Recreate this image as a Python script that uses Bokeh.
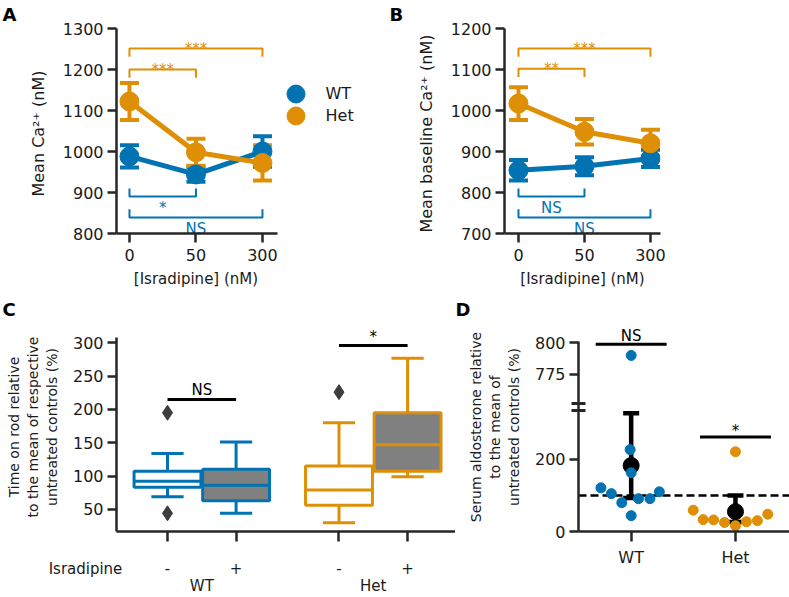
from bokeh.plotting import figure
from bokeh.layouts import row, column
from bokeh.models import (Range1d, LinearAxis, FixedTicker, Whisker, TeeHead,
                          ColumnDataSource, Legend, LegendItem)
from bokeh.core.properties import value
from bokeh.embed import file_html
from bokeh.resources import INLINE

FONT = "DejaVu Sans"
BLUE = "#0173B2"
ORANGE = "#DE8F05"
INK = "#262626"
TXT = "#1a1a1a"
BOX_GRAY = "#808080"
OUTLIER = "#3d3d3d"

# ---------------- data ----------------
conc_labels = ["0", "50", "300"]
conc_title = "[Isradipine] (nM)"
genotypes = ["WT", "Het"]

# Panel A: mean Ca2+ (nM), mean and SEM
a_wt_mean = [988, 944, 1000]
a_wt_sem = [27, 18, 37]
a_het_mean = [1122, 998, 972]
a_het_sem = [45, 33, 43]
a_het_sig = [(0, 1, 1200, "***"), (0, 2, 1251, "***")]
a_wt_sig = [(0, 1, 890, "*"), (0, 2, 839, "NS")]

# Panel B: mean baseline Ca2+ (nM)
b_wt_mean = [854, 864, 883]
b_wt_sem = [25, 22, 21]
b_het_mean = [1017, 948, 920]
b_het_sem = [40, 31, 33]
b_het_sig = [(0, 1, 1102, "**"), (0, 2, 1151, "***")]
b_wt_sig = [(0, 1, 790, "NS"), (0, 2, 739, "NS")]

# Panel C: box plots, order WT-, WT+, Het-, Het+
c_treat_title = "Isradipine"
c_treat_labels = ["-", "+"]
c_q1 = [83, 63, 56, 107]
c_median = [92, 86, 79, 147]
c_q3 = [107, 110, 115, 195]
c_whisker_lo = [69, 44, 30, 99]
c_whisker_hi = [134, 151, 180, 277]
c_outlier_box = [0, 0, 2]
c_outlier_val = [195, 44, 226]
c_sig = [(0, 1, 215, "NS"), (2, 3, 296, "*")]

# Panel D: serum aldosterone (% of untreated controls)
d_wt_vals = [121, 105, 80, 44, 91, 91, 110, 227, 163, 790]
d_wt_swarm = [-0.29, -0.19, -0.09, 0.0, 0.07, 0.18, 0.27, -0.01, 0.0, 0.0]
d_het_vals = [59, 33, 32, 25, 16, 27, 30, 48, 221]
d_het_swarm = [-0.405, -0.31, -0.21, -0.105, 0.0, 0.105, 0.21, 0.31, 0.0]
d_mean = [183, 55]
d_ci_lo = [93, 26]
d_ci_hi = [328, 100]
d_sig = [(0, 799, "NS"), (1, 262, "*")]
d_break = 700
d_reference = 100


# ---------------- helpers ----------------
def base_fig(width, height, x_range, y_range, bl, br, bt, bb):
    p = figure(width=width, height=height, x_range=x_range, y_range=y_range,
               output_backend="svg", toolbar_location=None,
               min_border_left=bl, min_border_right=br,
               min_border_top=bt, min_border_bottom=bb)
    p.outline_line_color = None
    p.xgrid.visible = False
    p.ygrid.visible = False
    return p


def style_axis(ax, label_size="16px", title_size="15px"):
    ax.axis_line_color = INK
    ax.axis_line_width = 2.5
    ax.major_tick_line_color = INK
    ax.major_tick_line_width = 2.5
    ax.major_tick_out = 9
    ax.major_tick_in = 0
    ax.minor_tick_line_color = None
    ax.major_label_text_font = FONT
    ax.major_label_text_font_size = label_size
    ax.major_label_text_color = TXT
    ax.axis_label_text_font = FONT
    ax.axis_label_text_font_size = title_size
    ax.axis_label_text_font_style = "normal"
    ax.axis_label_text_color = TXT


def panel_letter(p, letter, offset, standoff):
    p.title.text = letter
    p.title.align = "left"
    p.title.offset = offset
    p.title.standoff = standoff
    p.title.vertical_align = "top"
    p.title.text_font = FONT
    p.title.text_font_size = "18px"
    p.title.text_font_style = "bold"
    p.title.text_color = "black"


def series(p, means, sems, color):
    xs = list(range(len(means)))
    src = ColumnDataSource(dict(x=xs, m=means,
                                lo=[m - s for m, s in zip(means, sems)],
                                hi=[m + s for m, s in zip(means, sems)]))
    p.add_layout(Whisker(source=src, base="x", lower="lo", upper="hi",
                         line_color=color, line_width=4,
                         upper_head=TeeHead(size=19, line_color=color, line_width=4),
                         lower_head=TeeHead(size=19, line_color=color, line_width=4)))
    p.line("x", "m", source=src, line_color=color, line_width=5)
    return p.scatter("x", "m", source=src, size=19, fill_color=color, line_color=color)


BR_TICK = 20


def brackets(p, specs, color, above):
    for i0, i1, lvl, txt in specs:
        d = -BR_TICK if above else BR_TICK
        p.line([i0, i0, i1, i1], [lvl + d, lvl, lvl, lvl + d], line_color=color, line_width=2)
        p.text(x=[(i0 + i1) / 2], y=[lvl], text=[txt], text_color=color,
               text_font=value(FONT), text_font_size="15px", text_align="center",
               text_baseline="alphabetic" if above else "top",
               y_offset=0 if above else 2)


def conc_axes(p, ylabel, yticks, xlabel=True):
    p.xaxis.ticker = FixedTicker(ticks=list(range(len(conc_labels))))
    p.xaxis.major_label_overrides = {i: s for i, s in enumerate(conc_labels)}
    p.yaxis.ticker = FixedTicker(ticks=yticks)
    if xlabel:
        p.xaxis.axis_label = conc_title
    p.yaxis.axis_label = ylabel
    for ax in p.axis:
        style_axis(ax)
    p.yaxis.axis_label_text_font_size = "16px"
    p.xaxis.major_label_standoff = 6
    p.xaxis.axis_label_standoff = 6
    p.yaxis.major_label_standoff = 4
    p.yaxis.axis_label_standoff = 12


# ---------------- Panel A ----------------
A_X = Range1d(-0.195, 3.775)
pA = base_fig(388, 295, A_X, Range1d(800, 1300), 116, 8, 28, 62)
conc_axes(pA, "Mean Ca²⁺  (nM)", list(range(800, 1301, 100)), xlabel=False)
pA.xaxis.bounds = (A_X.start, 2.22)
# axis title centred under the (shortened) axis line, as its own label row
mid = (len(conc_labels) - 1) / 2
title_axis = LinearAxis(ticker=FixedTicker(ticks=[mid]), major_label_overrides={mid: conc_title})
pA.add_layout(title_axis, "below")
style_axis(title_axis, label_size="15px")
title_axis.axis_line_color = None
title_axis.major_tick_line_color = None
title_axis.major_tick_out = 0
title_axis.major_label_standoff = 6
rA_wt = series(pA, a_wt_mean, a_wt_sem, BLUE)
rA_het = series(pA, a_het_mean, a_het_sem, ORANGE)
brackets(pA, a_het_sig, ORANGE, True)
brackets(pA, a_wt_sig, BLUE, False)
for lbl, rend, bottom in ((genotypes[0], rA_wt, 117.5), (genotypes[1], rA_het, 95.5)):
    pA.add_layout(Legend(items=[LegendItem(label=lbl, renderers=[rend])],
                         location=(156.5, bottom), glyph_width=45, glyph_height=45,
                         padding=0, margin=0, label_standoff=8, border_line_color=None,
                         background_fill_alpha=0, label_text_font=FONT,
                         label_text_font_size="16px", label_text_color=TXT))
panel_letter(pA, "A", -114, 4)

# ---------------- Panel B ----------------
pB = base_fig(401, 295, Range1d(-0.212, 2.152), Range1d(700, 1200), 116, 129, 28, 62)
conc_axes(pB, "Mean baseline Ca²⁺  (nM)", list(range(700, 1201, 100)))
series(pB, b_wt_mean, b_wt_sem, BLUE)
series(pB, b_het_mean, b_het_sem, ORANGE)
brackets(pB, b_het_sig, ORANGE, True)
brackets(pB, b_wt_sig, BLUE, False)
panel_letter(pB, "B", -115, 4)

# ---------------- Panel C ----------------
C_X = Range1d(-1.487, 8.397)
pC = base_fig(455, 302, C_X, Range1d(16.67, 330.6), 116, 0, 27, 49)
box_x, box_color, box_fill, box_label = [], [], [], []
for g in range(len(genotypes)):
    for h in range(len(c_treat_labels)):
        box_x.append(5 * g + 2 * h)
        box_color.append(BLUE if g == 0 else ORANGE)
        box_fill.append("white" if h == 0 else BOX_GRAY)
        box_label.append(c_treat_labels[h])
group_x = [5 * g + 1 for g in range(len(genotypes))]
BW = 1.95
CAP = 0.47
pC.segment(x0=box_x, x1=box_x, y0=c_whisker_lo, y1=c_q1, line_color=box_color, line_width=3)
pC.segment(x0=box_x, x1=box_x, y0=c_q3, y1=c_whisker_hi, line_color=box_color, line_width=3)
pC.segment(x0=[x - CAP for x in box_x], x1=[x + CAP for x in box_x], y0=c_whisker_lo,
           y1=c_whisker_lo, line_color=box_color, line_width=3)
pC.segment(x0=[x - CAP for x in box_x], x1=[x + CAP for x in box_x], y0=c_whisker_hi,
           y1=c_whisker_hi, line_color=box_color, line_width=3)
pC.vbar(x=box_x, width=BW, bottom=c_q1, top=c_q3, fill_color=box_fill,
        line_color=box_color, line_width=3)
pC.segment(x0=[x - BW / 2 for x in box_x], x1=[x + BW / 2 for x in box_x], y0=c_median,
           y1=c_median, line_color=box_color, line_width=3)
pC.scatter(x=[box_x[i] for i in c_outlier_box], y=c_outlier_val, marker="diamond",
           size=15, fill_color=OUTLIER, line_color=OUTLIER)
for b0, b1, lvl, txt in c_sig:
    pC.segment(x0=[box_x[b0]], x1=[box_x[b1]], y0=[lvl], y1=[lvl], line_color="black", line_width=3)
    pC.text(x=[(box_x[b0] + box_x[b1]) / 2], y=[lvl], text=[txt], text_color="black",
            text_font=value(FONT), text_font_size="15px", text_align="center",
            text_baseline="alphabetic", y_offset=-9)
pC.yaxis.bounds = (16.67, 308)
pC.yaxis.ticker = FixedTicker(ticks=list(range(50, 301, 50)))
pC.yaxis.axis_label = "Time on rod relative\nto the mean of respective\nuntreated controls (%)"
# treatment row: tick marks drawn as minor ticks, labels as major labels
# (row title padded so that it sits left of the y axis)
treat_ticks = [C_X.start] + box_x
pC.xaxis.ticker = FixedTicker(ticks=treat_ticks, minor_ticks=box_x)
pC.xaxis.major_label_overrides = dict(
    [(C_X.start, c_treat_title + "\u00a0" * 13)] + [(x, l) for x, l in zip(box_x, box_label)])
grp_axis = LinearAxis(ticker=FixedTicker(ticks=group_x),
                      major_label_overrides={x: g for x, g in zip(group_x, genotypes)})
pC.add_layout(grp_axis, "below")
for ax in pC.axis:
    style_axis(ax)
pC.yaxis.axis_label_text_font_size = "14px"
pC.yaxis.major_label_standoff = 4
pC.yaxis.axis_label_standoff = 10
tx = pC.xaxis[0]
tx.major_tick_line_color = None
tx.major_tick_out = 0
tx.minor_tick_line_color = INK
tx.minor_tick_line_width = 2.5
tx.minor_tick_out = 10
tx.minor_tick_in = 0
tx.major_label_standoff = 18
tx.major_label_text_font_size = "15px"
grp_axis.axis_line_color = None
grp_axis.major_tick_line_color = None
grp_axis.major_tick_out = 0
grp_axis.major_label_standoff = -4
grp_axis.major_label_text_font_size = "15px"
panel_letter(pC, "C", -114, 2)

# ---------------- Panel D ----------------
D_X = Range1d(-0.505, 1.518)
d_lower = Range1d(0, 579.5)
d_upper = Range1d(650.0, 816.2)
pD = base_fig(334, 302, D_X, d_lower, 123, 0, 27, 49)
pD.extra_y_ranges = {"upper": d_upper}


def to_lower(v):
    return round(d_lower.start + (v - d_upper.start) * (d_lower.end - d_lower.start)
                 / (d_upper.end - d_upper.start), 3)


pD.segment(x0=[D_X.start], x1=[D_X.end], y0=[d_reference], y1=[d_reference],
           line_color="black", line_width=2.5, line_dash="8 4")
msrc = ColumnDataSource(dict(x=list(range(len(genotypes))), m=d_mean, lo=d_ci_lo, hi=d_ci_hi))
pD.add_layout(Whisker(source=msrc, base="x", lower="lo", upper="hi", line_color="black",
                      line_width=4.5,
                      upper_head=TeeHead(size=16, line_color="black", line_width=4.5),
                      lower_head=TeeHead(size=16, line_color="black", line_width=4.5)))
pD.scatter("x", "m", source=msrc, size=16, fill_color="black", line_color="black")
for g, (vals, dx, col) in enumerate([(d_wt_vals, d_wt_swarm, BLUE),
                                     (d_het_vals, d_het_swarm, ORANGE)]):
    lo_x = [g + o for v, o in zip(vals, dx) if v < d_break]
    lo_y = [v for v in vals if v < d_break]
    hi_x = [g + o for v, o in zip(vals, dx) if v >= d_break]
    hi_y = [v for v in vals if v >= d_break]
    pD.scatter(lo_x, lo_y, size=10, fill_color=col, line_color=col)
    if hi_y:
        pD.scatter(hi_x, hi_y, size=10, fill_color=col, line_color=col, y_range_name="upper")
for g, lvl, txt in d_sig:
    rng = "upper" if lvl >= d_break else "default"
    pD.segment(x0=[g - 0.34], x1=[g + 0.34], y0=[lvl], y1=[lvl], line_color="black",
               line_width=3, y_range_name=rng)
    pD.text(x=[g], y=[lvl], text=[txt], text_color="black", text_font=value(FONT),
            text_font_size="15px", text_align="center", text_baseline="alphabetic",
            y_offset=-8 if txt == "NS" else -6, y_range_name=rng)
t775, t800 = to_lower(775), to_lower(800)
# axis break drawn as a pair of short crossing (minor) ticks
break_marks = [336, 354]
pD.yaxis.ticker = FixedTicker(ticks=[0, 200, t775, t800], minor_ticks=break_marks)
pD.yaxis.major_label_overrides = {0: "0", 200: "200", t775: "775", t800: "800"}
pD.yaxis.bounds = (0, to_lower(801))
pD.xaxis.ticker = FixedTicker(ticks=list(range(len(genotypes))))
pD.xaxis.major_label_overrides = {i: g for i, g in enumerate(genotypes)}
pD.yaxis.axis_label = "Serum aldosterone relative\nto the mean of\nuntreated controls (%)"
for ax in pD.axis:
    style_axis(ax)
pD.xaxis.major_tick_out = 10
pD.xaxis.major_label_standoff = 6
pD.yaxis.axis_label_text_font_size = "14px"
pD.yaxis.major_label_standoff = 4
pD.yaxis.axis_label_standoff = 10
pD.yaxis.minor_tick_line_color = INK
pD.yaxis.minor_tick_line_width = 3
pD.yaxis.minor_tick_in = 7
pD.yaxis.minor_tick_out = 7
panel_letter(pD, "D", -123, 2)

layout = column(row(pA, pB), row(pC, pD))
open("out.html", "w").write(file_html(layout, INLINE))
